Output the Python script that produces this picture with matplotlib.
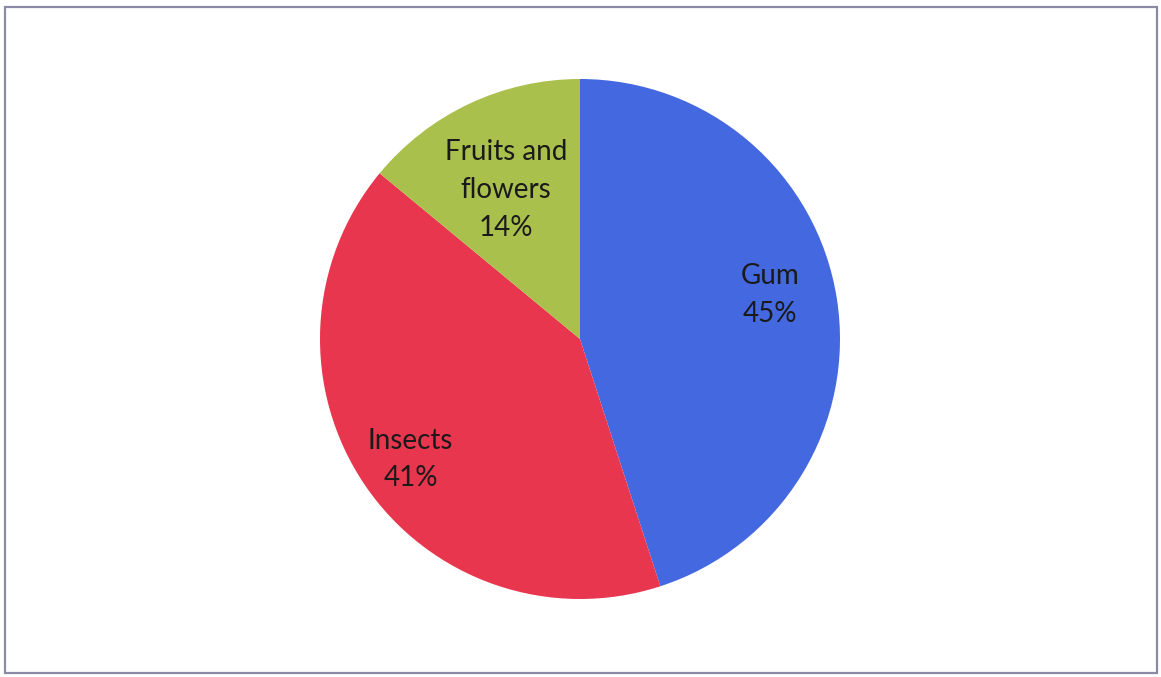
import numpy as np
import matplotlib.pyplot as plt
from matplotlib.patches import Rectangle

categories = ["Gum", "Insects", "Fruits and\nflowers"]
shares = [45, 41, 14]
colors = ["#4468e0", "#e8364f", "#a9c04c"]
label_dist = [0.75, 0.80, 0.64]
label_turn = [4.0, 1.2, 1.2]

W, H = 1161, 677
fig = plt.figure(figsize=(W / 100, H / 100), dpi=100)
ax = fig.add_axes([0, 0, 1, 1])

# chart frame
ax.add_patch(Rectangle((4.5, 4.5), W - 9, H - 11, fill=False,
                       edgecolor="#8a8aa6", linewidth=1.6))

cx, cy, r = 580, H - 339, 260
wedges, _ = ax.pie(shares, colors=colors, startangle=90, counterclock=False,
                   center=(cx, cy), radius=r, frame=True,
                   wedgeprops=dict(linewidth=0))
ax.set_xlim(0, W)
ax.set_ylim(0, H)
ax.set_aspect("equal")
ax.axis("off")

for w, name, val, d, t in zip(wedges, categories, shares, label_dist, label_turn):
    ang = np.deg2rad((w.theta1 + w.theta2) / 2 + t)
    x = cx + d * r * np.cos(ang)
    y = cy + d * r * np.sin(ang)
    ax.text(x, y, f"{name}\n{val}%", ha="center", va="center",
            fontsize=20, family=["Lato", "DejaVu Sans"], color="#1a1a1a",
            linespacing=1.55)

fig.savefig("out.png", dpi=100)
